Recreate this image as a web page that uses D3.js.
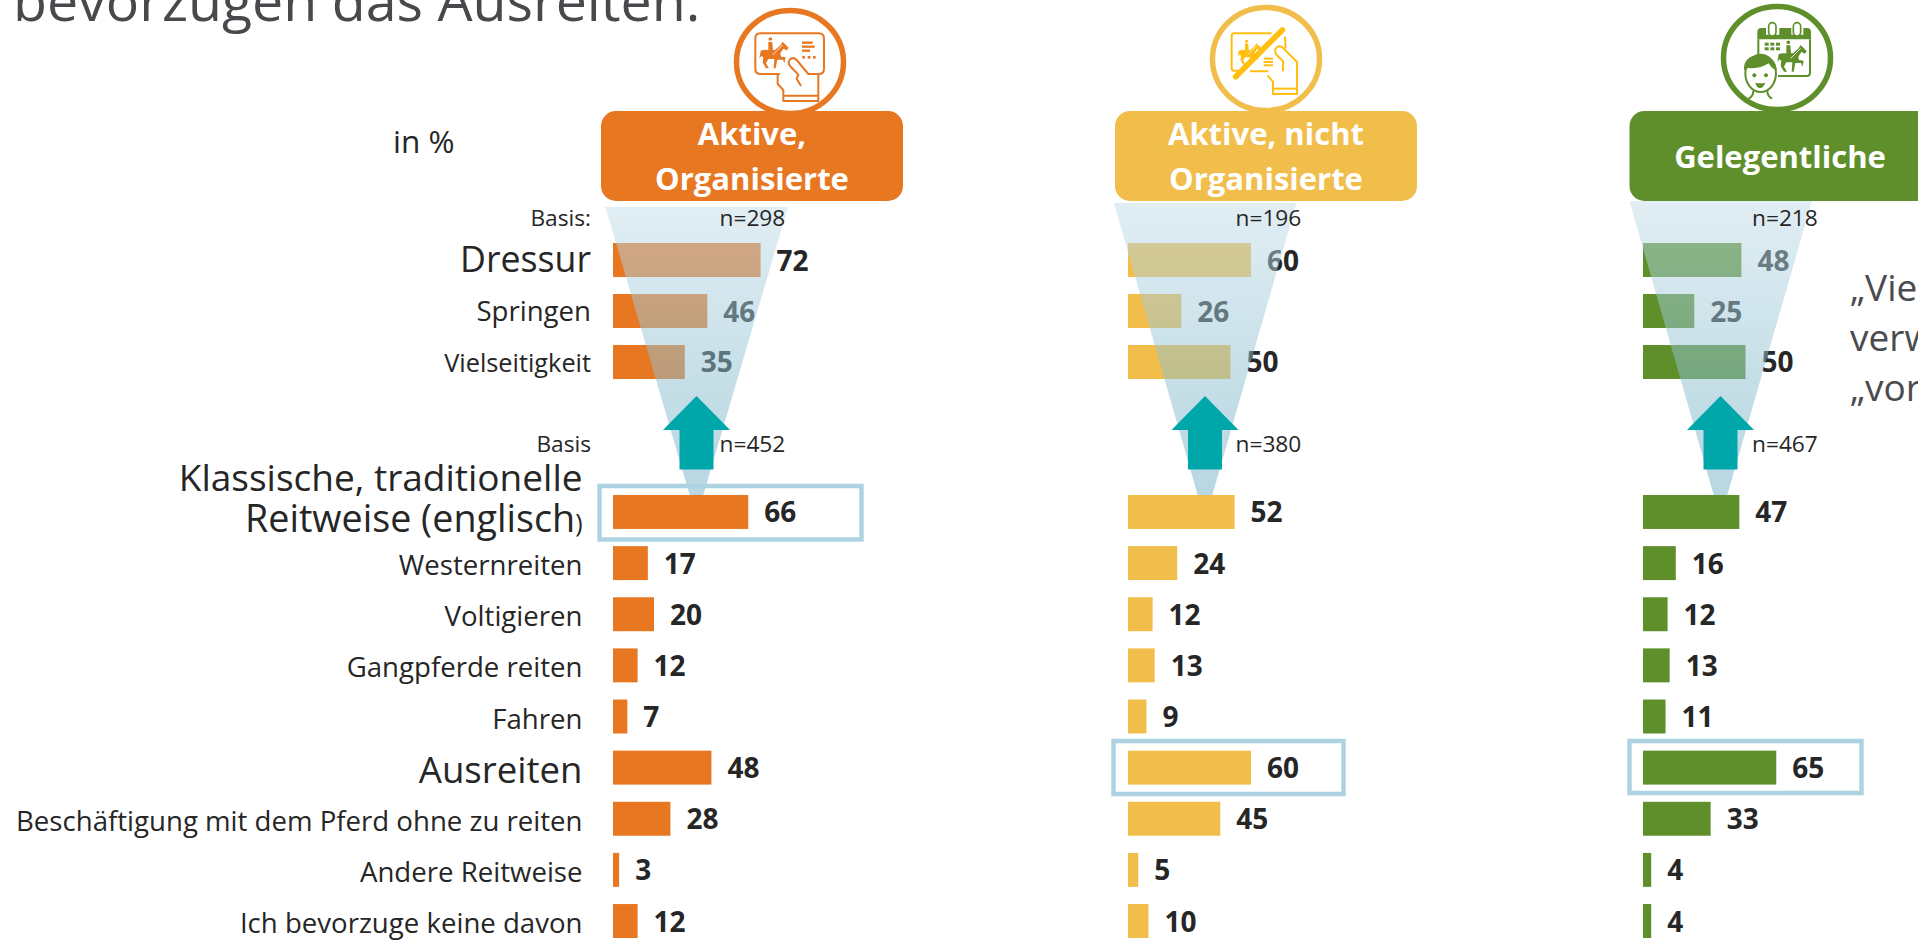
<!DOCTYPE html>
<html lang="de">
<head>
<meta charset="utf-8">
<title>Reitweisen</title>
<script src="https://cdn.jsdelivr.net/npm/d3@7/dist/d3.min.js"></script>
<style>
html,body{margin:0;padding:0;background:#fff;overflow:hidden;width:1918px;height:940px}
svg{display:block;font-family:"Open Sans",Lato,sans-serif}
</style>
</head>
<body>
<svg id="chart" width="1918" height="940" viewBox="0 0 1918 940"></svg>
<script>
// ---------- data ----------
const titleLine = "bevorzugen das Ausreiten.";
const unitLabel = "in %";
const upperCategories = ["Dressur", "Springen", "Vielseitigkeit"];
const lowerCategories = ["Klassische, traditionelle Reitweise (englisch)", "Westernreiten", "Voltigieren", "Gangpferde reiten", "Fahren", "Ausreiten", "Beschäftigung mit dem Pferd ohne zu reiten", "Andere Reitweise", "Ich bevorzuge keine davon"];
const groupNames = ["Aktive, Organisierte", "Aktive, nicht Organisierte", "Gelegentliche"];
const upperOrganized = [72, 46, 35];
const upperNotOrganized = [60, 26, 50];
const upperOccasional = [48, 25, 50];
const lowerOrganized = [66, 17, 20, 12, 7, 48, 28, 3, 12];
const lowerNotOrganized = [52, 24, 12, 13, 9, 60, 45, 5, 10];
const lowerOccasional = [47, 16, 12, 13, 11, 65, 33, 4, 4];
const upperBases = ["n=298", "n=196", "n=218"];
const lowerBases = ["n=452", "n=380", "n=467"];
const sideNote = ["„Vie", "verw", "„vor"];

// ---------- layout ----------
const svg = d3.select("#chart");
const defs = svg.append("defs");
const layout = [
  {x0:613,  color:"#e87722", icon:"#e87722", hx:601,  top:207, fl:605.5, fr:788,  bl:690,  br:703,  cx:790,  cy:62, ax:696.5, boxX:599.5, boxY:486, boxW:262, boxH:53.5, nX:719.5},
  {x0:1128, color:"#f2be4b", icon:"#ffbe10", hx:1115, top:203, fl:1114,  fr:1296.5,bl:1198, br:1212, cx:1266, cy:59, ax:1205,  boxX:1113.5,boxY:741, boxW:230, boxH:53,   nX:1235.5},
  {x0:1643, color:"#5f8f2b", icon:"#5f8f2b", hx:1629.5,top:201,fl:1629.5,fr:1812, bl:1714, br:1727, cx:1777, cy:58, ax:1720.5,boxX:1629.5,boxY:741, boxW:232, boxH:52,   nX:1752}
];
const upperSeries = [upperOrganized, upperNotOrganized, upperOccasional];
const lowerSeries = [lowerOrganized, lowerNotOrganized, lowerOccasional];

const x = d3.scaleLinear().domain([0, 100]).range([0, 205]);
const yUpper = d3.scaleBand().domain(upperCategories).range([243, 379]).paddingInner(0.333);
const yLower = d3.scaleBand().domain(lowerCategories).range([495, 938]).paddingInner(0.336);

const DARK = "#262626";
const labelSize = {"Dressur":35.7, "Ausreiten":36.6, "Vielseitigkeit":25.3};
const FS = 27.6, FS_VAL = 28, FS_N = 22.7;

// gradient for the funnels
layout.forEach((l, i) => {
  const g = defs.append("linearGradient").attr("id", "fg" + i)
    .attr("gradientUnits", "userSpaceOnUse").attr("x1", 0).attr("x2", 0).attr("y1", l.top).attr("y2", 495);
  g.append("stop").attr("offset", 0).attr("stop-color", "rgb(195,221,233)").attr("stop-opacity", 0.5);
  g.append("stop").attr("offset", 0.55).attr("stop-color", "rgb(145,193,209)").attr("stop-opacity", 0.5);
  g.append("stop").attr("offset", 1).attr("stop-color", "rgb(111,175,197)").attr("stop-opacity", 0.5);
});

// title + unit
svg.append("text").attr("x", 13).attr("y", 21).attr("font-size", 55.5).attr("fill", "#48494d").text(titleLine);
svg.append("text").attr("x", 393).attr("y", 153).attr("font-size", 31.5).attr("fill", DARK).text(unitLabel);

// side note
svg.append("g").selectAll("text").data(sideNote).join("text")
  .attr("x", 1850).attr("y", (d, i) => 301 + i * 50).attr("font-size", 37).attr("fill", "#4a4b4f").text(d => d);

// upper row labels
const upperLabels = svg.append("g").attr("fill", DARK).attr("text-anchor", "end");
upperLabels.selectAll("text").data(upperCategories).join("text")
  .attr("x", 591).attr("y", d => yUpper(d) + yUpper.bandwidth() / 2 + (d === "Dressur" ? 12 : 10))
  .attr("font-size", d => labelSize[d] || FS).text(d => d);

// lower row labels
const lowerLabels = svg.append("g").attr("fill", DARK).attr("text-anchor", "end");
lowerCategories.forEach((c, i) => {
  const mid = yLower(c) + yLower.bandwidth() / 2;
  if (i === 0) {
    lowerLabels.append("text").attr("x", 582.5).attr("y", 491).attr("font-size", 37).text("Klassische, traditionelle");
    const t = lowerLabels.append("text").attr("x", 582.5).attr("y", 532).attr("font-size", 37.7).text("Reitweise (englisch");
    t.append("tspan").attr("font-size", 25).text(")");
  } else {
    lowerLabels.append("text").attr("x", 582.5).attr("y", mid + (c === "Ausreiten" ? 15 : 12))
      .attr("font-size", labelSize[c] || FS).text(c);
  }
});

// basis labels
svg.append("text").attr("x", 591).attr("y", 226).attr("text-anchor", "end").attr("font-size", FS_N).attr("fill", DARK).text("Basis:");
svg.append("text").attr("x", 591).attr("y", 452).attr("text-anchor", "end").attr("font-size", FS_N).attr("fill", DARK).text("Basis");

// groups
layout.forEach((l, i) => {
  const g = svg.append("g");

  // upper bars + values (lie beneath the funnel)
  g.append("g").selectAll("rect").data(upperCategories).join("rect")
    .attr("x", l.x0).attr("y", d => yUpper(d)).attr("height", yUpper.bandwidth())
    .attr("width", (d, j) => x(upperSeries[i][j])).attr("fill", l.color);
  g.append("g").selectAll("text").data(upperCategories).join("text")
    .attr("x", (d, j) => l.x0 + x(upperSeries[i][j]) + 16)
    .attr("y", d => yUpper(d) + yUpper.bandwidth() / 2 + 10.5)
    .attr("font-size", FS_VAL).attr("font-weight", 700).attr("fill", DARK)
    .text((d, j) => upperSeries[i][j]);

  // funnel
  g.append("path")
    .attr("d", d3.line()([[l.fl, l.top], [l.fr, l.top], [l.br, 496], [l.bl, 496]]) + "Z")
    .attr("fill", `url(#fg${i})`);

  // highlight box
  g.append("rect").attr("x", l.boxX).attr("y", l.boxY).attr("width", l.boxW).attr("height", l.boxH)
    .attr("fill", "none").attr("stroke", "#add3e2").attr("stroke-width", 4.5);

  // lower bars + values
  g.append("g").selectAll("rect").data(lowerCategories).join("rect")
    .attr("x", l.x0).attr("y", d => yLower(d)).attr("height", yLower.bandwidth())
    .attr("width", (d, j) => x(lowerSeries[i][j])).attr("fill", l.color);
  g.append("g").selectAll("text").data(lowerCategories).join("text")
    .attr("x", (d, j) => l.x0 + x(lowerSeries[i][j]) + 16)
    .attr("y", d => yLower(d) + yLower.bandwidth() / 2 + 10.5)
    .attr("font-size", FS_VAL).attr("font-weight", 700).attr("fill", DARK)
    .text((d, j) => lowerSeries[i][j]);

  // up arrow
  g.append("path")
    .attr("d", d3.line()([[l.ax, 396], [l.ax + 33.5, 430], [l.ax + 17, 430], [l.ax + 17, 469.5], [l.ax - 17, 469.5], [l.ax - 17, 430], [l.ax - 33.5, 430]]) + "Z")
    .attr("fill", "#00a7aa");

  // n labels
  g.append("text").attr("x", l.nX).attr("y", 226).attr("font-size", FS_N).attr("fill", DARK).text(upperBases[i]);
  g.append("text").attr("x", l.nX).attr("y", 452).attr("font-size", FS_N).attr("fill", DARK).text(lowerBases[i]);

  // header
  g.append("rect").attr("x", l.hx).attr("y", 111).attr("width", 302).attr("height", 90).attr("rx", 15).attr("fill", l.color);
  g.append("ellipse").attr("cx", l.cx).attr("cy", l.cy).attr("rx", 53.5).attr("ry", 51.5)
    .attr("fill", "#fff").attr("stroke", l.color).attr("stroke-width", 5.5);
});

// header captions
const hdr = svg.append("g").attr("fill", "#fff").attr("font-weight", 700).attr("font-size", 31).attr("text-anchor", "middle");
hdr.append("text").attr("x", 752).attr("y", 145).text("Aktive,");
hdr.append("text").attr("x", 752).attr("y", 190).text("Organisierte");
hdr.append("text").attr("x", 1266).attr("y", 145).text("Aktive, nicht");
hdr.append("text").attr("x", 1266).attr("y", 190).text("Organisierte");
hdr.append("text").attr("x", 1780).attr("y", 168).text("Gelegentliche");

// ---------- icons (drawn in crop pixels at 1/3 scale) ----------
const HORSE = "M88,176 L92,153 Q100,148 112,150 L135,150 L152,135 L158,125 L176,143 L171,151 L160,146 L151,160 L153,170 L167,172 L163,190 L159,179 L142,179 L137,205 L131,205 L133,177 L115,177 L108,190 L117,205 L108,205 L98,188 L100,172 L94,168 Z";
function rider(group, color) {
  group.append("circle").attr("cx", 121).attr("cy", 117).attr("r", 5.5).attr("fill", color);
  group.append("path").attr("d", "M115,126 L127,126 L129,150 L134,170 L128,170 L120,152 L115,150 Z").attr("fill", color);
  group.append("path").attr("d", HORSE).attr("fill", color);
  group.append("path").attr("d", "M128,165 L158,135").attr("stroke", "#fff").attr("stroke-width", 2.5);
}

// organised icon
(function () {
  const c = layout[0].icon;
  const g = svg.append("g").attr("transform", "translate(730,0) scale(0.3333)");
  g.append("path").attr("d", "M150,222 L92,222 Q76,222 76,206 L76,116 Q76,100 92,100 L266,100 Q282,100 282,116 L282,206 Q282,222 266,222 L240,222")
    .attr("fill", "none").attr("stroke", c).attr("stroke-width", 6);
  rider(g, c);
  [128, 140, 152].forEach((y, i) => g.append("rect").attr("x", 216).attr("y", y - 3.5).attr("width", [32, 38, 24][i]).attr("height", 7).attr("fill", c));
  [218, 234, 250].forEach(xx => g.append("rect").attr("x", xx - 1).attr("y", 168).attr("width", 8).attr("height", 8).attr("fill", c));
  g.append("path").attr("d", "M143,222 L143,252 L160,270 L160,303 L265,303 L265,222 L235,222 L200,180 Q190,170 180,178 Q172,188 180,198 L205,224 L200,236 L213,258")
    .attr("fill", "#fff").attr("stroke", c).attr("stroke-width", 6).attr("stroke-linejoin", "round");
  g.append("path").attr("d", "M160,287 L265,287").attr("stroke", c).attr("stroke-width", 6);
})();

// not-organised icon
(function () {
  const c = layout[1].icon;
  const g = svg.append("g").attr("transform", "translate(1205,0) scale(0.3333)");
  g.append("path").attr("d", "M100,212 L88,212 Q80,212 80,204 L80,108 Q80,100 88,100 L200,100 M240,110 L242,145 M135,214 L190,214")
    .attr("fill", "none").attr("stroke", c).attr("stroke-width", 6);
  const h = g.append("g").attr("transform", "translate(28,30) scale(0.8)");
  rider(h, c);
  [176, 186, 196].forEach(y => g.append("rect").attr("x", 176).attr("y", y - 3).attr("width", 28).attr("height", 6).attr("fill", c));
  g.append("path").attr("d", "M188,226 L204,246 L204,282 L276,282 L276,186 L232,142 Q220,134 212,146 Q208,156 216,166 L234,184 L234,214")
    .attr("fill", "none").attr("stroke", c).attr("stroke-width", 6).attr("stroke-linejoin", "round");
  g.append("path").attr("d", "M204,266 L276,266").attr("stroke", c).attr("stroke-width", 6);
  g.append("path").attr("d", "M92,230 L232,90").attr("stroke", c).attr("stroke-width", 17).attr("stroke-linecap", "round");
})();

// occasional icon
(function () {
  const c = layout[2].icon;
  const g = svg.append("g").attr("transform", "translate(1716,0) scale(0.3333)");
  g.append("path").attr("d", "M142,84 L136,84 Q124,84 124,96 L124,118 L285,118 L285,96 Q285,84 273,84 L262,84 L262,104 L226,104 L226,84 L190,84 L190,104 L150,104 L150,84 Z").attr("fill", c);
  g.append("rect").attr("x", 158).attr("y", 68).attr("width", 22).attr("height", 40).attr("rx", 11).attr("fill", "#fff").attr("stroke", c).attr("stroke-width", 5);
  g.append("rect").attr("x", 232).attr("y", 68).attr("width", 22).attr("height", 40).attr("rx", 11).attr("fill", "#fff").attr("stroke", c).attr("stroke-width", 5);
  g.append("path").attr("d", "M127,118 L127,170 M282,118 L282,218 Q282,228 272,228 L186,228").attr("fill", "none").attr("stroke", c).attr("stroke-width", 6);
  [[146, 128], [163, 128], [180, 128], [146, 142], [163, 142], [180, 142]].forEach(p =>
    g.append("rect").attr("x", p[0]).attr("y", p[1]).attr("width", 12).attr("height", 9).attr("fill", c));
  const h = g.append("g").attr("transform", "translate(96,10) scale(1)");
  rider(h, c);
  // head
  g.append("ellipse").attr("cx", 134).attr("cy", 220).attr("rx", 46).attr("ry", 56).attr("fill", "#fff").attr("stroke", c).attr("stroke-width", 6);
  g.append("path").attr("d", "M84,210 Q82,168 130,165 Q178,166 182,210 Q170,210 158,190 Q130,208 96,204 Q90,210 84,210 Z").attr("fill", c);
  g.append("circle").attr("cx", 115).attr("cy", 226).attr("r", 6).attr("fill", c);
  g.append("circle").attr("cx", 150).attr("cy", 226).attr("r", 6).attr("fill", c);
  g.append("path").attr("d", "M118,248 Q134,252 148,248 Q142,264 132,264 Q122,264 118,248 Z").attr("fill", c);
  g.append("path").attr("d", "M112,272 Q112,288 98,296 M154,272 Q154,288 168,296").attr("fill", "none").attr("stroke", c).attr("stroke-width", 6);
})();
</script>
</body>
</html>
